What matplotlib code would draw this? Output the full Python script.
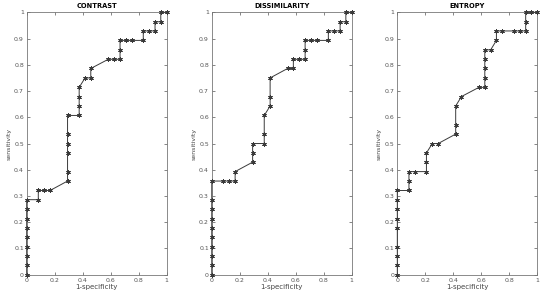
import matplotlib
matplotlib.use("Agg")
import matplotlib.pyplot as plt

# ROC points (1-specificity, sensitivity)
contrast_x = [0, 0, 0, 0, 0, 0, 0, 0, 0, 0.083, 0.083, 0.125, 0.167, 0.292, 0.292, 0.292,
              0.292, 0.292, 0.292, 0.375, 0.375, 0.375, 0.375, 0.417, 0.458, 0.458, 0.583,
              0.625, 0.667, 0.667, 0.667, 0.708, 0.75, 0.833, 0.833, 0.875, 0.917, 0.917,
              0.958, 0.958, 1.0]
contrast_y = [0, 0.036, 0.071, 0.107, 0.143, 0.179, 0.214, 0.25, 0.286, 0.286, 0.321, 0.321,
              0.321, 0.357, 0.393, 0.464, 0.5, 0.536, 0.607, 0.607, 0.643, 0.679, 0.714, 0.75,
              0.75, 0.786, 0.821, 0.821, 0.821, 0.857, 0.893, 0.893, 0.893, 0.893, 0.929,
              0.929, 0.929, 0.964, 0.964, 1.0, 1.0]

dissim_x = [0, 0, 0, 0, 0, 0, 0, 0, 0, 0, 0.083, 0.125, 0.167, 0.167, 0.292, 0.292, 0.292,
            0.375, 0.375, 0.375, 0.417, 0.417, 0.417, 0.542, 0.583, 0.583, 0.625, 0.667,
            0.667, 0.667, 0.708, 0.75, 0.833, 0.833, 0.875, 0.917, 0.917, 0.958, 0.958, 1.0]
dissim_y = [0, 0.036, 0.071, 0.107, 0.143, 0.179, 0.214, 0.25, 0.286, 0.357, 0.357, 0.357,
            0.357, 0.393, 0.429, 0.464, 0.5, 0.5, 0.536, 0.607, 0.643, 0.679, 0.75, 0.786,
            0.786, 0.821, 0.821, 0.821, 0.857, 0.893, 0.893, 0.893, 0.893, 0.929, 0.929,
            0.929, 0.964, 0.964, 1.0, 1.0]

entropy_x = [0, 0, 0, 0, 0, 0, 0, 0, 0, 0.083, 0.083, 0.083, 0.125, 0.208, 0.208, 0.208,
             0.25, 0.292, 0.417, 0.417, 0.417, 0.458, 0.583, 0.625, 0.625, 0.625, 0.625,
             0.625, 0.667, 0.708, 0.708, 0.75, 0.833, 0.875, 0.917, 0.917, 0.917, 0.958, 1.0]
entropy_y = [0, 0.036, 0.071, 0.107, 0.179, 0.214, 0.25, 0.286, 0.321, 0.321, 0.357, 0.393,
             0.393, 0.393, 0.429, 0.464, 0.5, 0.5, 0.536, 0.571, 0.643, 0.679, 0.714, 0.714,
             0.75, 0.786, 0.821, 0.857, 0.857, 0.893, 0.929, 0.929, 0.929, 0.929, 0.929,
             0.964, 1.0, 1.0, 1.0]

titles = ["CONTRAST", "DISSIMILARITY", "ENTROPY"]
curves = [(contrast_x, contrast_y), (dissim_x, dissim_y), (entropy_x, entropy_y)]
lefts = [0.0485, 0.385, 0.7224]

fig = plt.figure(figsize=(5.5, 2.97), dpi=100)
for left, title, (xs, ys) in zip(lefts, titles, curves):
    ax = fig.add_axes([left, 0.075, 0.2545, 0.8835])
    ax.plot(xs, ys, color="#3a3a3a", lw=0.7, marker=(6, 2, 0), ms=3.2,
            mew=0.7, clip_on=False, zorder=3)
    ax.set_xlim(0, 1)
    ax.set_ylim(0, 1)
    ax.set_xticks([0, 0.2, 0.4, 0.6, 0.8, 1])
    ax.set_xticklabels(["0", "0.2", "0.4", "0.6", "0.8", "1"])
    ax.set_yticks([i / 10 for i in range(11)])
    ax.set_yticklabels(["0"] + [f"{i/10:.1f}" for i in range(1, 10)] + ["1"])
    ax.tick_params(direction="in", length=2, width=0.5, labelsize=4.5,
                   colors="#555555", top=True, right=True, pad=2)
    for s in ax.spines.values():
        s.set_color("#777777")
        s.set_linewidth(0.6)
    ax.set_title(title, fontsize=4.8, fontweight="bold", pad=3)
    ax.set_xlabel("1-specificity", fontsize=5, color="#444444", labelpad=1)
    ax.set_ylabel("sensitivity", fontsize=4.5, color="#444444", labelpad=2)

fig.savefig("out.png", dpi=100)
